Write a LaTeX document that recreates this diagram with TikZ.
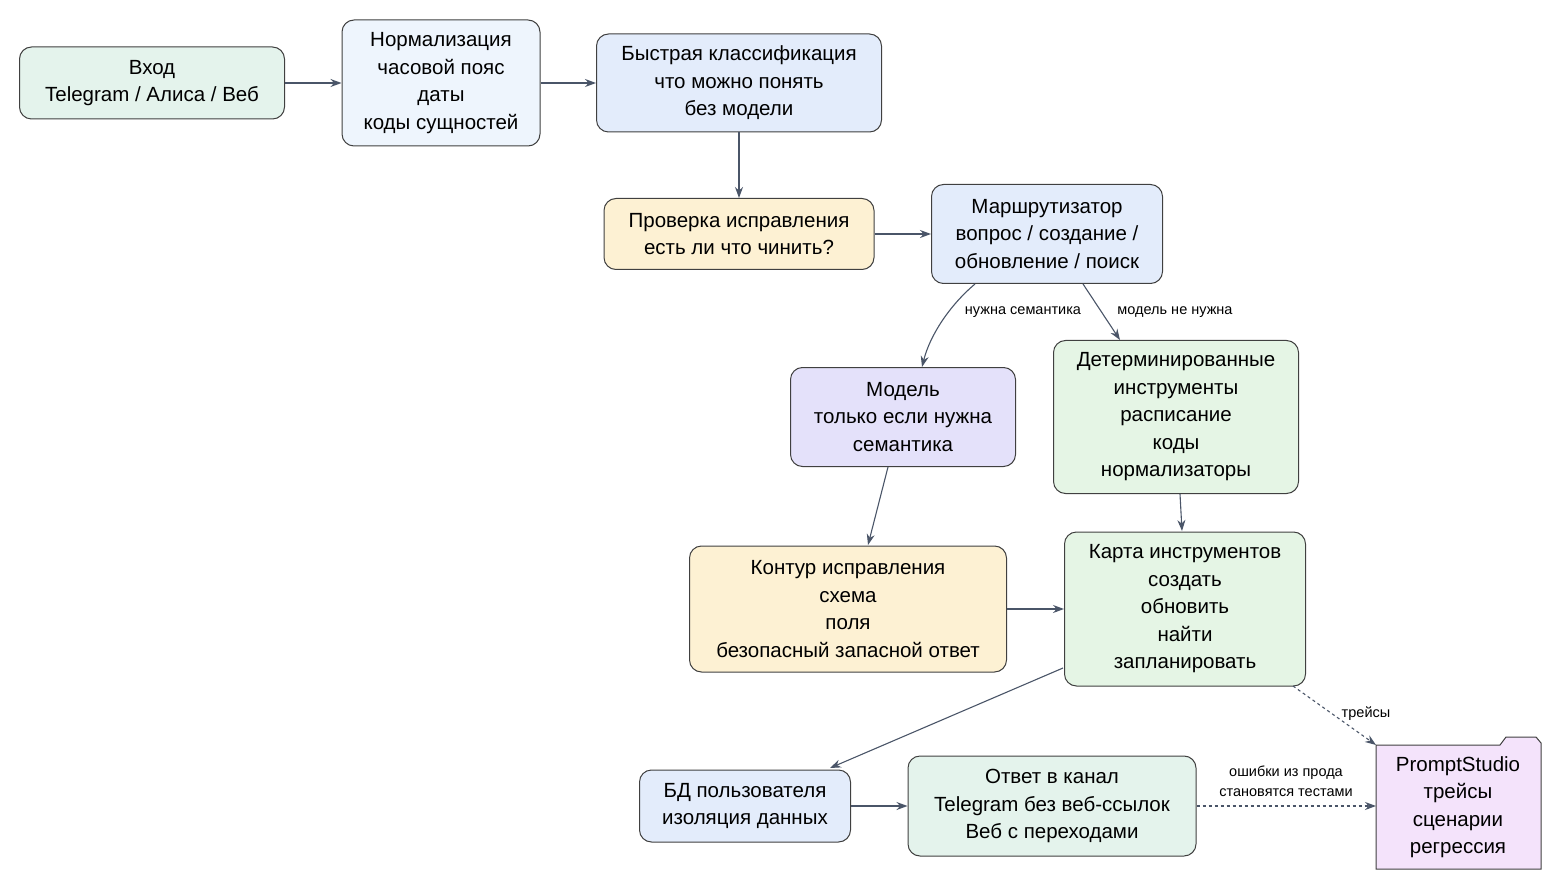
\documentclass[tikz,border=0pt]{standalone}
\usepackage{fontspec}
\setmainfont{Liberation Sans}
\usetikzlibrary{arrows.meta}
\definecolor{cgreen}{HTML}{E4F3EC}
\definecolor{cblue}{HTML}{EEF5FD}
\definecolor{cblue2}{HTML}{E3ECFB}
\definecolor{cyel}{HTML}{FDF1D3}
\definecolor{clav}{HTML}{E4E1FA}
\definecolor{cgr2}{HTML}{E5F5E5}
\definecolor{cpur}{HTML}{F4E3FB}
\definecolor{cline}{HTML}{4A5568}
\tikzset{
 box/.style={draw=black!75,line width=1pt,rounded corners=12pt,align=center,
   font=\fontsize{20.5}{27.5}\selectfont,inner sep=0pt},
 arr/.style={draw=cline,line width=1.1pt,-{Stealth[length=11pt,width=8pt]}},
 lbl/.style={font=\fontsize{14.5}{20}\selectfont,fill=white,inner sep=1pt,align=center}
}
\begin{document}
\begin{tikzpicture}[x=1pt,y=-1pt]
\useasboundingbox (0,0) rectangle (1560,890);
\node[box,fill=cgreen,minimum width=265pt,minimum height=72pt] (vh) at (152,83) {Вход\\Telegram / Алиса / Веб};
\node[box,fill=cblue,minimum width=198pt,minimum height=126pt] (no) at (441,83) {Нормализация\\часовой пояс\\даты\\коды сущностей};
\node[box,fill=cblue2,minimum width=285pt,minimum height=98pt] (by) at (739,83) {Быстрая классификация\\что можно понять\\без модели};
\node[box,fill=cyel,minimum width=270pt,minimum height=71pt] (pr) at (739,234) {Проверка исправления\\есть ли что чинить?};
\node[box,fill=cblue2,minimum width=231pt,minimum height=99pt] (ma) at (1047,234) {Маршрутизатор\\вопрос / создание /\\обновление / поиск};
\node[box,fill=clav,minimum width=225pt,minimum height=99pt] (mo) at (903,417) {Модель\\только если нужна\\семантика};
\node[box,fill=cgr2,minimum width=245pt,minimum height=153pt] (de) at (1176,417) {Детерминированные\\инструменты\\расписание\\коды\\нормализаторы};
\node[box,fill=cyel,minimum width=317pt,minimum height=126pt] (ko) at (848,609) {Контур исправления\\схема\\поля\\безопасный запасной ответ};
\node[box,fill=cgr2,minimum width=241pt,minimum height=154pt] (ka) at (1185,609) {Карта инструментов\\создать\\обновить\\найти\\запланировать};
\node[box,fill=cblue2,minimum width=211pt,minimum height=72pt] (bd) at (745,806) {БД пользователя\\изоляция данных};
\node[box,fill=cgreen,minimum width=288pt,minimum height=100pt] (ot) at (1052,806) {Ответ в канал\\Telegram без веб-ссылок\\Веб с переходами};
% folder
\draw[draw=black!75,line width=1pt,fill=cpur] (1376,745) -- (1376,869) -- (1541,869) -- (1541,743) -- (1536,737) -- (1506,737) -- (1500,745) -- cycle;
\node[box,draw=none,minimum width=165pt,minimum height=124pt] (ps) at (1458,807) {PromptStudio\\трейсы\\сценарии\\регрессия};
\coordinate (psw) at (1376,806);
\coordinate (pstl) at (1376,745);
\draw[arr] (vh) -- (no);
\draw[arr] (no) -- (by);
\draw[arr] (by) -- (pr);
\draw[arr] (pr) -- (ma);
\draw[arr] (975,284) .. controls (950,305) and (930,335) .. (922,367);
\node[lbl] at (1023,312) {нужна семантика};
\draw[arr] (1083,284) -- (1120,340);
\node[lbl] at (1175,312) {модель не нужна};
\draw[arr] (888,467) -- (868,545);
\draw[arr] (1180,494) -- (1182,531);
\draw[arr] (ko) -- (ka);
\draw[arr] (1063,668) -- (830,768);
\draw[arr] (bd) -- (ot);
\draw[arr,dashed] (ot) -- (psw);
\node[lbl] at (1286,781) {ошибки из прода\\становятся тестами};
\draw[arr,dashed] (1293,686) -- (pstl);
\node[lbl,fill=none] at (1366,714) {трейсы};
\end{tikzpicture}
\end{document}
